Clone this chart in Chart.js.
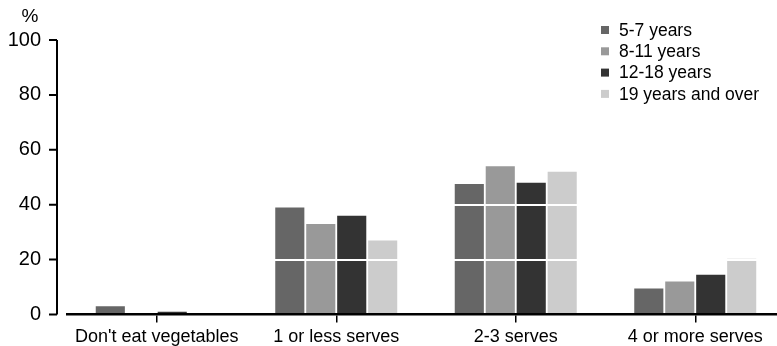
<!DOCTYPE html>
<html>
<head>
<meta charset="utf-8">
<script src="https://cdn.jsdelivr.net/npm/chart.js@4"></script>
<style>
  html, body { margin: 0; padding: 0; background: #fff; overflow: hidden; }
  #wrap { width: 785px; height: 346px; }
</style>
</head>
<body>
<div id="wrap"><canvas id="grafico"></canvas></div>
<script>
// categorias y series
const categorias = ["Don't eat vegetables", '1 or less serves', '2-3 serves', '4 or more serves'];
const edad5a7 = [3, 39, 47.5, 9.5];
const edad8a11 = [0, 33, 54, 12];
const edad12a18 = [1, 36, 48, 14.5];
const edad19mas = [0, 27, 52, 20.3];
const ticksY = [0, 20, 40, 60, 80, 100];

const series = [
  { label: '5-7 years', data: edad5a7, color: '#666666' },
  { label: '8-11 years', data: edad8a11, color: '#999999' },
  { label: '12-18 years', data: edad12a18, color: '#333333' },
  { label: '19 years and over', data: edad19mas, color: '#cccccc' }
];

const fuente = 'Liberation Sans, Arial, sans-serif';

// eje y desplazado, leyenda y simbolo %
const extras = {
  id: 'extras',
  afterDraw(chart) {
    const c = chart.ctx;
    const y = chart.scales.y;
    const a = chart.chartArea;
    const x0 = a.left - 10;
    c.save();
    c.strokeStyle = '#000';
    c.lineWidth = 2;
    c.beginPath();
    c.moveTo(x0, y.getPixelForValue(100));
    c.lineTo(x0, y.getPixelForValue(0));
    ticksY.forEach(v => {
      const py = y.getPixelForValue(v);
      c.moveTo(x0 - 8, py);
      c.lineTo(x0, py);
    });
    c.stroke();

    c.fillStyle = '#000';
    c.font = '19px ' + fuente;
    c.textAlign = 'center';
    c.textBaseline = 'middle';
    c.fillText('%', 30, 17);

    // leyenda
    c.font = '17.5px ' + fuente;
    c.textAlign = 'left';
    chart.data.datasets.forEach((ds, i) => {
      const cy = 30 + i * 21.3;
      c.fillStyle = ds.backgroundColor;
      c.fillRect(601, cy - 4, 8, 8);
      c.fillStyle = '#000';
      c.fillText(ds.label, 619, cy + 1);
    });
    c.restore();
  }
};

const ctx = document.getElementById('grafico').getContext('2d');
new Chart(ctx, {
  type: 'bar',
  data: {
    labels: categorias,
    datasets: series.map(s => ({
      label: s.label,
      data: s.data,
      backgroundColor: s.color,
      borderWidth: 0,
      barPercentage: 0.94,
      categoryPercentage: 0.69
    }))
  },
  options: {
    responsive: true,
    maintainAspectRatio: false,
    animation: false,
    layout: { padding: { top: 40, left: 7, right: 0, bottom: 0 } },
    plugins: { legend: { display: false }, tooltip: { enabled: false } },
    scales: {
      x: {
        afterFit: s => { s.paddingLeft = 0; s.paddingRight = 0; s.height = 31.5; },
        grid: { display: true, drawOnChartArea: false, offset: false, tickLength: 8, color: '#000', lineWidth: 1.5 },
        border: { display: true, color: '#000', width: 2.5, z: 2 },
        ticks: { color: '#000', font: { family: fuente, size: 18 }, padding: 4, maxRotation: 0 }
      },
      y: {
        min: 0,
        max: 100,
        afterFit: s => { s.width = 60; s.paddingTop = 0; s.paddingBottom = 0; },
        afterBuildTicks: scale => { scale.ticks = ticksY.map(v => ({ value: v })); },
        grid: {
          drawTicks: false,
          z: 1,
          lineWidth: 2,
          color: c => (c.tick && c.tick.value === 0) ? 'rgba(0,0,0,0)' : '#ffffff'
        },
        border: { display: false },
        ticks: { color: '#000', font: { family: fuente, size: 20 }, padding: 26 }
      }
    }
  },
  plugins: [extras]
});
</script>
</body>
</html>
